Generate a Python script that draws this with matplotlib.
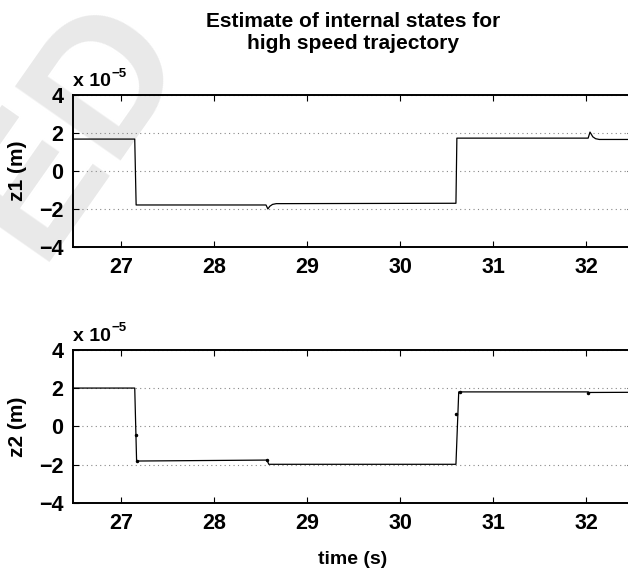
import matplotlib.pyplot as plt

plt.rcParams['font.family'] = ['Liberation Sans', 'DejaVu Sans']
plt.rcParams['font.weight'] = 'bold'

# valores (z en unidades de 1e-5 m)
t1 = [26.45, 27.15, 27.165, 28.56, 28.58, 28.60, 28.63, 28.67, 30.60, 30.61,
      32.02, 32.04, 32.07, 32.10, 32.14, 32.55]
z1 = [1.68, 1.68, -1.79, -1.79, -2.00, -1.86, -1.76, -1.72, -1.70, 1.73,
      1.73, 2.05, 1.80, 1.70, 1.66, 1.66]

t2 = [26.45, 27.15, 27.17, 28.57, 28.59, 30.60, 30.63, 32.02, 32.03, 32.55]
z2 = [2.00, 2.00, -1.80, -1.75, -1.97, -1.97, 1.80, 1.80, 1.77, 1.78]
t2_dots = [27.16, 27.17, 28.57, 30.60, 30.64, 32.02]
z2_dots = [-0.45, -1.80, -1.73, 0.65, 1.80, 1.76]

xticks = [27, 28, 29, 30, 31, 32]
yticks = [-4, -2, 0, 2, 4]

fig = plt.figure(figsize=(6.28, 5.69), dpi=100)

# marca de agua
fig.text(0.115, 0.775, 'ED', fontsize=135, color='#e9e9e9', fontweight='bold',
         rotation=55, ha='center', va='center', zorder=-1)

ax1 = fig.add_axes([0.1167, 0.566, 0.891, 0.267])
ax2 = fig.add_axes([0.1167, 0.1155, 0.891, 0.270])

for ax, t, z, lab in [(ax1, t1, z1, 'z1 (m)'), (ax2, t2, z2, 'z2 (m)')]:
    ax.set_facecolor('none')
    ax.plot(t, z, color='black', lw=0.9)
    ax.set_xlim(26.49, 32.5)
    ax.set_ylim(-4, 4)
    ax.set_xticks(xticks)
    ax.set_yticks(yticks)
    ax.set_yticklabels(['\u22124', '\u22122', '0', '2', '4'])
    ax.yaxis.grid(True, linestyle=(0, (1, 3)), color='#888888', lw=0.8)
    ax.tick_params(direction='in', length=4, width=0.8, labelsize=15.5,
                   top=True, right=True, pad=7)
    for s in ax.spines.values():
        s.set_linewidth(1.4)
    ax.set_ylabel(lab, fontsize=15, fontweight='bold', labelpad=9)
    ax.text(0.0, 1.03, 'x 10', transform=ax.transAxes, fontsize=14,
            fontweight='bold', ha='left', va='bottom')
    ax.text(0.068, 1.10, '\u22125', transform=ax.transAxes, fontsize=9.5,
            fontweight='bold', ha='left', va='bottom')

ax2.plot(t2_dots, z2_dots, 'k.', markersize=3)

ax2.set_xlabel('time (s)', fontsize=14, fontweight='bold', labelpad=12)
ax1.set_title('Estimate of internal states for\nhigh speed trajectory',
              fontsize=15, fontweight='bold', pad=33, linespacing=1.2)

fig.savefig('out.png', dpi=100)
